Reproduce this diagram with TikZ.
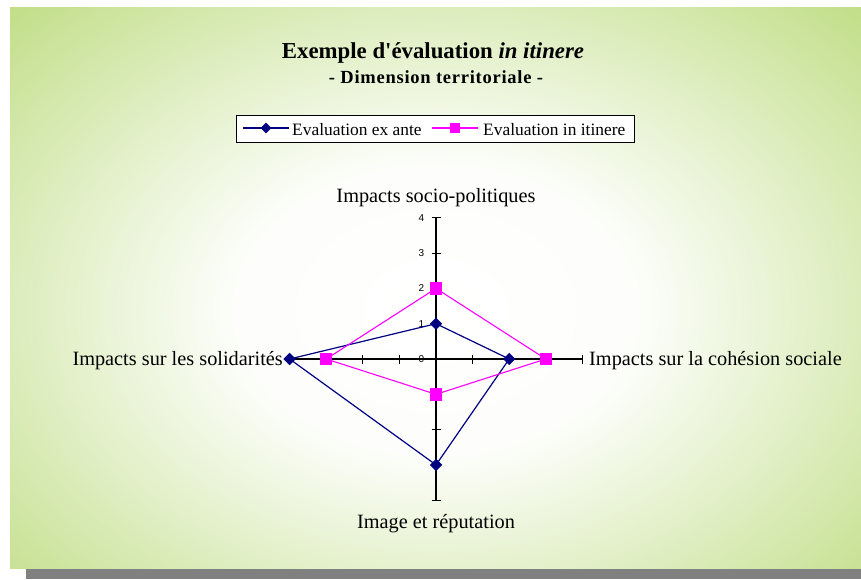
\documentclass[tikz,border=0pt]{standalone}
\usepackage{fontspec}
\setmainfont{Liberation Serif}[Ligatures=TeXOff]
\newfontfamily\axisfont{Liberation Sans}
\usetikzlibrary{shapes.geometric}
\definecolor{bggreen}{RGB}{184,217,118}
\definecolor{shadowgray}{RGB}{128,128,128}
\definecolor{exante}{RGB}{0,0,128}
\definecolor{itinere}{RGB}{255,0,255}
\pgfdeclareradialshading{glow}{\pgfpointorigin}{color(0bp)=(white); color(10bp)=(white!97!bggreen); color(19bp)=(bggreen!40!white); color(33bp)=(bggreen); color(50bp)=(bggreen)}

\begin{document}
\begin{tikzpicture}[x=1pt,y=-1pt,
  axisline/.style={black,line width=1.1pt},
  tickmark/.style={black,line width=1.1pt},
  exline/.style={exante,line width=1.2pt,line join=round},
  itline/.style={itinere,line width=1.1pt,line join=round},
  exmark/.style={diamond,fill=exante,draw=none,inner sep=0pt,minimum size=12.5pt},
  itmark/.style={rectangle,fill=itinere,draw=none,inner sep=0pt,minimum size=12.5pt},
  exsmall/.style={diamond,fill=exante,draw=none,inner sep=0pt,minimum size=11pt},
  itsmall/.style={rectangle,fill=itinere,draw=none,inner sep=0pt,minimum size=10pt},
  axislabel/.style={font=\fontsize{20.3}{24}\selectfont,inner sep=0pt},
  ticklabel/.style={font=\axisfont\fontsize{10}{12}\selectfont,inner sep=0pt},
  legendtext/.style={font=\fontsize{17.4}{20}\selectfont,inner sep=0pt,anchor=base west}]

\useasboundingbox (0,0) rectangle (861,579);

% drop shadow and gradient panel (elliptic glow)
\fill[shadowgray] (26,568) rectangle (861,579);
\begin{scope}
  \clip (10,7) rectangle (861,568);
  \fill[bggreen] (10,7) rectangle (861,568);
  \begin{scope}[transform canvas={shift={(436,310)},yscale=0.72}]
    \shade[shading=glow] (-500,-500) rectangle (500,500);
  \end{scope}
\end{scope}

% title
\node[anchor=base,inner sep=0pt,font=\bfseries\fontsize{22.8}{27}\selectfont] (title) at (433,58)
  {Exemple d'évaluation \textit{in itinere}};
\node[anchor=base,inner sep=0pt,font=\bfseries\fontsize{18.5}{22}\selectfont\addfontfeatures{LetterSpace=4}] (subtitle) at (436,83)
  {- Dimension territoriale -};

% legend
\node[draw=black,fill=white,line width=0.8pt,minimum width=398pt,minimum height=27pt,inner sep=0pt] (legend) at (435,128.5) {};
\coordinate (la) at (243,128);
\coordinate (lb) at (289,128);
\coordinate (lc) at (432,128);
\coordinate (ld) at (478,128);
\draw[exline] (la) -- (lb);
\node[exsmall] (lmex) at (266,128) {};
\node[legendtext] (lex) at (292,135) {Evaluation ex ante};
\draw[itline] (lc) -- (ld);
\node[itsmall] (lmit) at (455,128) {};
\node[legendtext] (lit) at (483,135) {Evaluation in itinere};

% radar chart, one unit per grade
\begin{scope}[shift={(436,359)},x=36.6pt,y=35.3pt]
  \coordinate (O) at (0,0);
  \coordinate (N) at (0,4);
  \coordinate (E) at (4,0);
  \coordinate (S) at (0,-4);
  \coordinate (W) at (-4,0);
  \draw[axisline] (O) -- (N);
  \draw[axisline] (O) -- (E);
  \draw[axisline] (O) -- (S);
  \draw[axisline] (O) -- (W);
  \foreach \i in {1,2,3,4}{
    \draw[tickmark] (0,\i) +(-4.5pt,0pt) -- +(4.5pt,0pt);
    \draw[tickmark] (0,-\i) +(-4.5pt,0pt) -- +(4.5pt,0pt);
    \draw[tickmark] (\i,0) +(0pt,-4.5pt) -- +(0pt,4.5pt);
    \draw[tickmark] (-\i,0) +(0pt,-4.5pt) -- +(0pt,4.5pt);
  }
  \foreach \i in {0,1,2,3,4}{
    \node[ticklabel] (t\i) at ([xshift=-14.5pt]0,\i) {\i};
  }

  % ex ante
  \coordinate (a1) at (0,1);
  \coordinate (a2) at (2,0);
  \coordinate (a3) at (0,-3);
  \coordinate (a4) at (-4,0);
  \draw[exline] (a1) -- (a2) -- (a3) -- (a4) -- cycle;
  \foreach \k in {1,2,3,4}{\node[exmark] (ma\k) at (a\k) {};}

  % in itinere
  \coordinate (b1) at (0,2);
  \coordinate (b2) at (3,0);
  \coordinate (b3) at (0,-1);
  \coordinate (b4) at (-3,0);
  \draw[itline] (b1) -- (b2) -- (b3) -- (b4) -- cycle;
  \foreach \k in {1,2,3,4}{\node[itmark] (mb\k) at (b\k) {};}
\end{scope}

% axis titles
\node[axislabel,anchor=base] (lnorth) at (436,202) {Impacts socio-politiques};
\node[axislabel,anchor=base west] (least) at (589,365) {Impacts sur la cohésion sociale};
\node[axislabel,anchor=base east] (lwest) at (283,365) {Impacts sur les solidarités};
\node[axislabel,anchor=base] (lsouth) at (436,528) {Image et réputation};
\end{tikzpicture}
\end{document}
